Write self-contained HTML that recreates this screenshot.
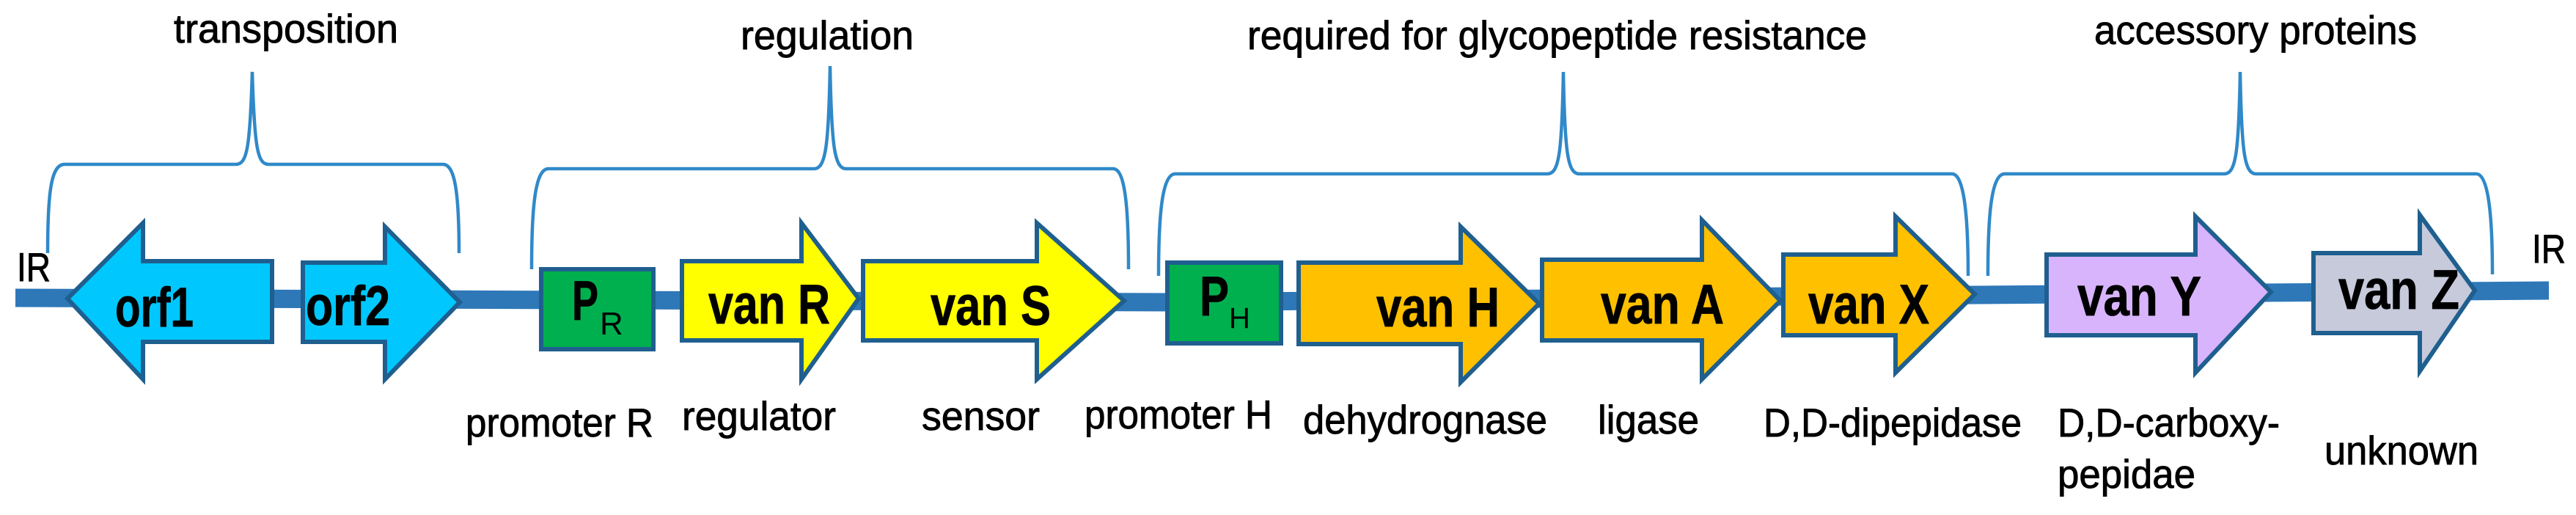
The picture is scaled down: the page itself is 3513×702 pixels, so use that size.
<!DOCTYPE html>
<html><head><meta charset="utf-8"><style>
html,body{margin:0;padding:0;background:#fff;}
svg{display:block;}
text{font-family:"Liberation Sans",Arial,sans-serif;fill:#000;}
.g{font-weight:bold;font-size:76px;stroke:#000;stroke-width:0.8;}
.l{font-size:55px;stroke:#000;stroke-width:0.9;}
.br{fill:none;stroke:#3089c8;stroke-width:4.5;}
.ar{stroke:#1f5f8f;stroke-width:6;stroke-linejoin:miter;}
</style></head><body>
<svg width="3513" height="702" viewBox="0 0 3513 702" xmlns="http://www.w3.org/2000/svg">
<polyline points="21,406 1600,412 2440,404 3476,396" fill="none" stroke="#2e78b8" stroke-width="25"/>

<path class="br" d="M65,345 C65,260 70,224 88,224 L322,224 C337,224 341,200 344,98 C347,200 351,224 366,224 L604,224 C620,224 626,260 626,345"/>
<path class="br" d="M725,367 C725,280 730,230 748,230 L1110,230 C1126,230 1130,200 1132,90 C1134,200 1138,230 1154,230 L1518,230 C1534,230 1539,280 1539,367"/>
<path class="br" d="M1580,376 C1580,290 1585,237 1603,237 L2110,237 C2126,237 2130,210 2132,98 C2134,210 2138,237 2154,237 L2662,237 C2678,237 2684,290 2684,376"/>
<path class="br" d="M2711,376 C2711,290 2716,237 2734,237 L3033,237 C3049,237 3053,210 3055,98 C3057,210 3061,237 3077,237 L3377,237 C3393,237 3399,290 3399,374"/>

<text class="l" x="237" y="58" textLength="306" lengthAdjust="spacingAndGlyphs">transposition</text>
<text class="l" x="1010" y="67" textLength="236" lengthAdjust="spacingAndGlyphs">regulation</text>
<text class="l" x="1701" y="67" textLength="845" lengthAdjust="spacingAndGlyphs">required  for glycopeptide resistance</text>
<text class="l" x="2856" y="60" textLength="440" lengthAdjust="spacingAndGlyphs">accessory proteins</text>

<text class="l" x="23" y="383" textLength="46" lengthAdjust="spacingAndGlyphs">IR</text>
<text class="l" x="3453" y="358" textLength="46" lengthAdjust="spacingAndGlyphs">IR</text>

<polygon class="ar" fill="#00c8ff" points="92,407 195,304 195,356 371,356 371,466 195,466 195,517"/>
<text class="g" x="157" y="445" textLength="107" lengthAdjust="spacingAndGlyphs">orf1</text>
<polygon class="ar" fill="#00c8ff" points="413,358 525,358 525,309 627,412 525,517 525,466 413,466"/>
<text class="g" x="417" y="443" textLength="115" lengthAdjust="spacingAndGlyphs">orf2</text>

<rect class="ar" fill="#00b04f" x="738" y="367" width="153" height="109"/>
<text class="g" x="780" y="436" textLength="36" lengthAdjust="spacingAndGlyphs">P</text>
<text style="font-size:44px" x="818" y="456">R</text>

<polygon class="ar" fill="#ffff00" points="930,356 1093,356 1093,304 1171,407 1093,517 1093,464 930,464"/>
<text class="g" x="966" y="441" textLength="166" lengthAdjust="spacingAndGlyphs">van R</text>
<polygon class="ar" fill="#ffff00" points="1177,356 1414,356 1414,304 1533,410 1414,517 1414,464 1177,464"/>
<text class="g" x="1269" y="443" textLength="164" lengthAdjust="spacingAndGlyphs">van S</text>

<rect class="ar" fill="#00b04f" x="1592" y="358" width="155" height="110"/>
<text class="g" x="1636" y="430" textLength="40" lengthAdjust="spacingAndGlyphs">P</text>
<text style="font-size:40px" x="1676" y="447">H</text>

<polygon class="ar" fill="#ffc000" points="1771,358 1992,358 1992,309 2099,414 1992,521 1992,469 1771,469"/>
<text class="g" x="1877" y="445" textLength="168" lengthAdjust="spacingAndGlyphs">van H</text>
<polygon class="ar" fill="#ffc000" points="2103,354 2321,354 2321,300 2428,410 2321,517 2321,464 2103,464"/>
<text class="g" x="2183" y="441" textLength="168" lengthAdjust="spacingAndGlyphs">van A</text>
<polygon class="ar" fill="#ffc000" points="2432,347 2585,347 2585,295 2693,401 2585,508 2585,457 2432,457"/>
<text class="g" x="2466" y="441" textLength="165" lengthAdjust="spacingAndGlyphs">van X</text>

<polygon class="ar" fill="#d8b4fc" points="2791,347 2994,347 2994,295 3097,398 2994,508 2994,457 2791,457"/>
<text class="g" x="2833" y="430" textLength="169" lengthAdjust="spacingAndGlyphs">van Y</text>
<polygon class="ar" fill="#c6cadb" points="3155,345 3300,345 3300,293 3375,396 3300,506 3300,454 3155,454"/>
<text class="g" x="3189" y="421" textLength="165" lengthAdjust="spacingAndGlyphs">van Z</text>

<text class="l" x="635" y="595" textLength="256" lengthAdjust="spacingAndGlyphs">promoter R</text>
<text class="l" x="930" y="586" textLength="210" lengthAdjust="spacingAndGlyphs">regulator</text>
<text class="l" x="1257" y="586" textLength="161" lengthAdjust="spacingAndGlyphs">sensor</text>
<text class="l" x="1479" y="584" textLength="256" lengthAdjust="spacingAndGlyphs">promoter H</text>
<text class="l" x="1777" y="591" textLength="333" lengthAdjust="spacingAndGlyphs">dehydrognase</text>
<text class="l" x="2179" y="591" textLength="138" lengthAdjust="spacingAndGlyphs">ligase</text>
<text class="l" x="2405" y="595" textLength="352" lengthAdjust="spacingAndGlyphs">D,D-dipepidase</text>
<text class="l" x="2806" y="595" textLength="303" lengthAdjust="spacingAndGlyphs">D,D-carboxy-</text>
<text class="l" x="2806" y="665" textLength="188" lengthAdjust="spacingAndGlyphs">pepidae</text>
<text class="l" x="3170" y="633" textLength="210" lengthAdjust="spacingAndGlyphs">unknown</text>
</svg>
</body></html>
